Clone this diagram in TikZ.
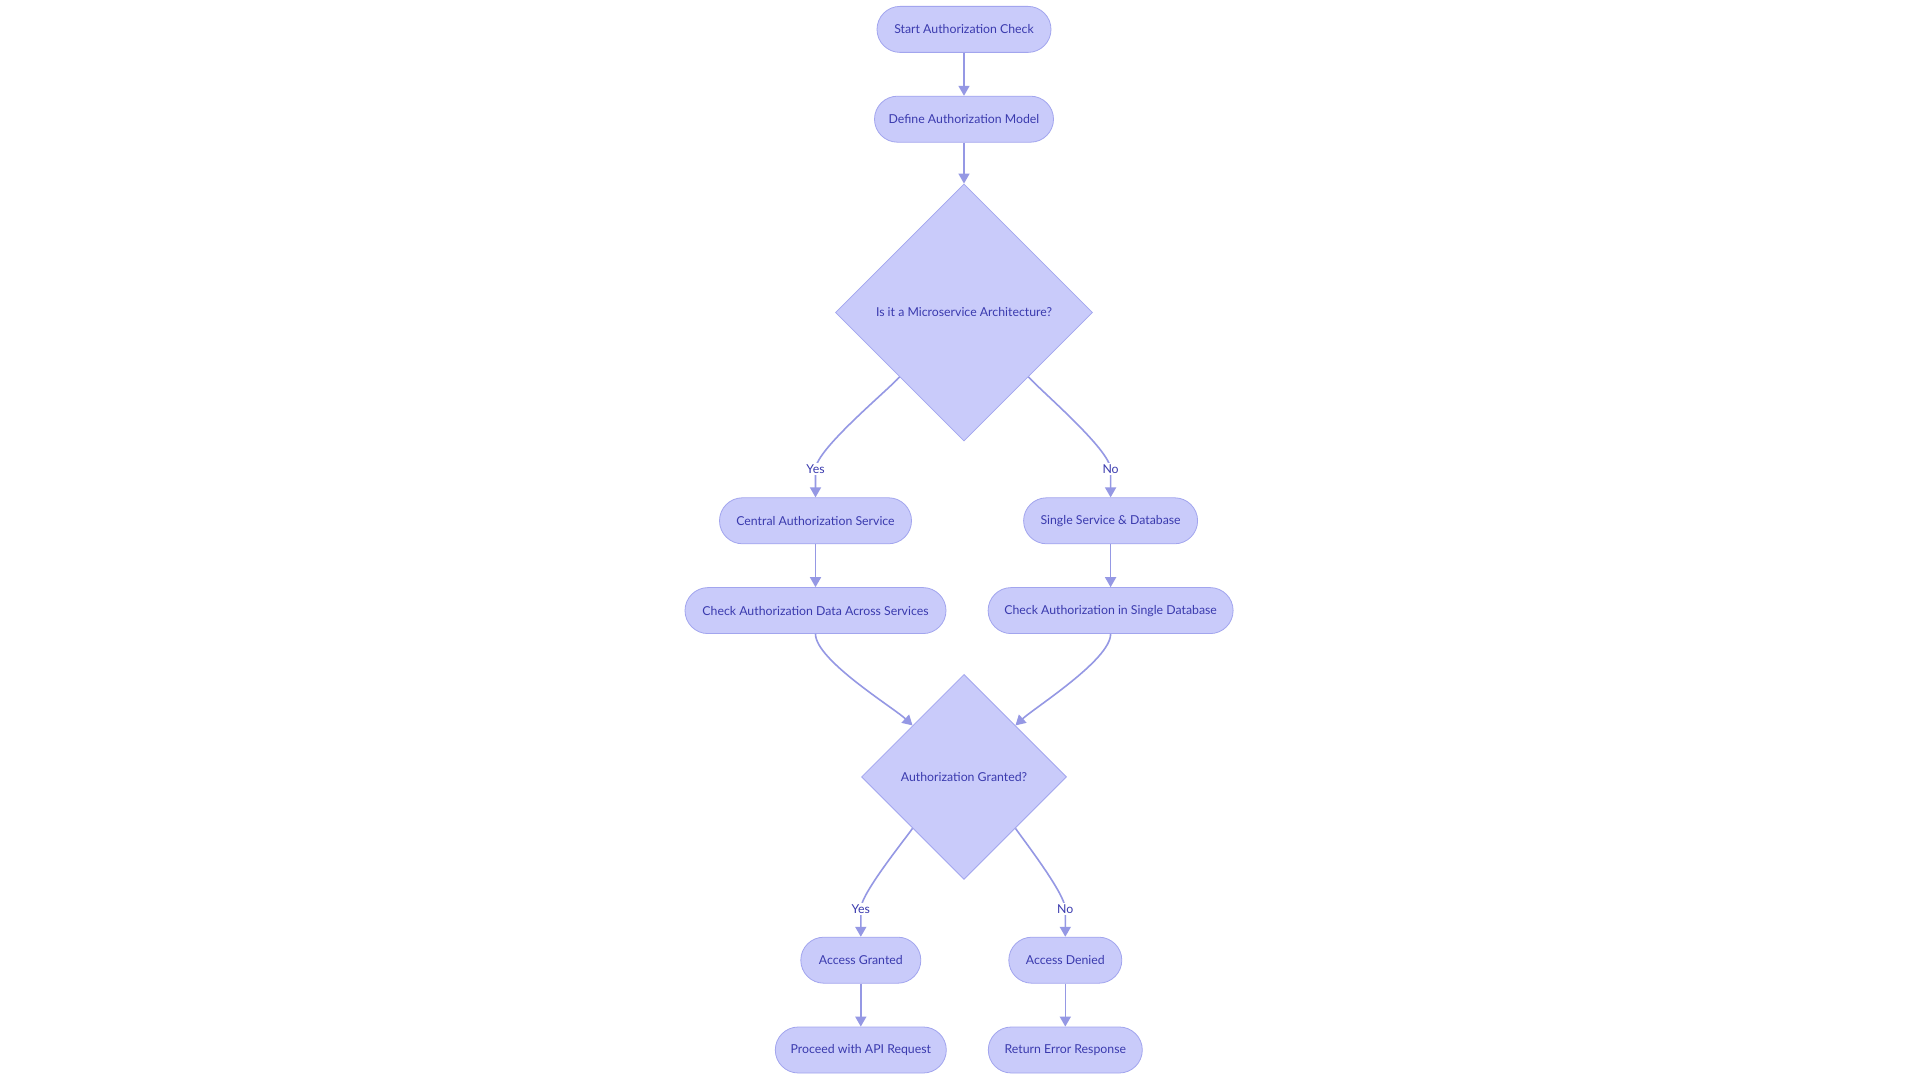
\documentclass[tikz,border=0pt]{standalone}
\usepackage{fontspec}
\setmainfont{Lato}
\usetikzlibrary{arrows.meta,positioning,shapes.geometric}
\definecolor{lav}{HTML}{C9CBFA}
\definecolor{lavline}{HTML}{A2A5EE}
\definecolor{wire}{HTML}{9598E4}
\definecolor{ink}{HTML}{3A3AAE}

\begin{document}
\begin{tikzpicture}[x=1pt,y=1pt,node distance=43pt, every node/.style={font=\fontsize{12.3}{15}\selectfont,text=ink},
 box/.style={draw=lavline,fill=lav,rounded corners=23pt,minimum height=46pt,line width=0.8pt},
 dia/.style={diamond,draw=lavline,fill=lav,aspect=1,inner sep=0pt,line width=0.8pt},
 arr/.style={-{Triangle[length=10pt,width=11pt]},draw=wire,line width=1.6pt},
 lbl/.style={fill=white,inner sep=1.5pt}]
\path[use as bounding box,fill=white] (0,0) rectangle (1920,1080);
\node[box,minimum width=174pt] (start) at (964,1050.6) {Start Authorization Check};
\node[box,below=of start,minimum width=179pt] (define) {Define Authorization Model};
\node[dia,below=41pt of define,minimum width=257pt,minimum height=257pt] (micro) {Is it a Microservice Architecture?};
\node[box,below=56pt of micro,xshift=-148.5pt,minimum width=192pt] (central) {Central Authorization Service};
\node[box,below=56pt of micro,xshift=146.6pt,minimum width=174pt] (single) {Single Service \& Database};
\node[box,below=of central,minimum width=261pt] (acrossdata) {Check Authorization Data Across Services};
\node[box,below=of single,minimum width=245pt] (singledb) {Check Authorization in Single Database};
\node[dia,below=40pt of acrossdata,xshift=148.5pt,minimum width=205pt,minimum height=205pt] (granted) {Authorization Granted?};
\node[box,below=57pt of granted,xshift=-103.2pt,minimum width=120pt] (accok) {Access Granted};
\node[box,below=57pt of granted,xshift=101.3pt,minimum width=113pt] (accno) {Access Denied};
\node[box,below=of accok,minimum width=171pt] (proceed) {Proceed with API Request};
\node[box,below=of accno,minimum width=154pt] (errresp) {Return Error Response};
% label points on the branches
\coordinate[above=28pt of central] (yesA);
\coordinate[above=28pt of single] (noA);
\coordinate[above=28pt of accok] (yesB);
\coordinate[above=28pt of accno] (noB);
\draw[arr] (start)--(define);\draw[arr] (define)--(micro);
\draw[arr] (micro.south west) to[out=228,in=90,looseness=0.4] (yesA)--(central);
\draw[arr] (micro.south east) to[out=-48,in=90,looseness=0.4] (noA)--(single);
\draw[arr] (central)--(acrossdata);\draw[arr] (single)--(singledb);
\draw[arr] (acrossdata.south) to[out=-90,in=137,looseness=0.5] (granted.north west);
\draw[arr] (singledb.south) to[out=-90,in=43,looseness=0.5] (granted.north east);
\draw[arr] (granted.south west) to[out=235,in=90,looseness=0.4] (yesB)--(accok);
\draw[arr] (granted.south east) to[out=-55,in=90,looseness=0.4] (noB)--(accno);
\draw[arr] (accok)--(proceed);\draw[arr] (accno)--(errresp);
\node[lbl] at (yesA) {Yes};\node[lbl] at (noA) {No};
\node[lbl] at (yesB) {Yes};\node[lbl] at (noB) {No};
\end{tikzpicture}
\end{document}
